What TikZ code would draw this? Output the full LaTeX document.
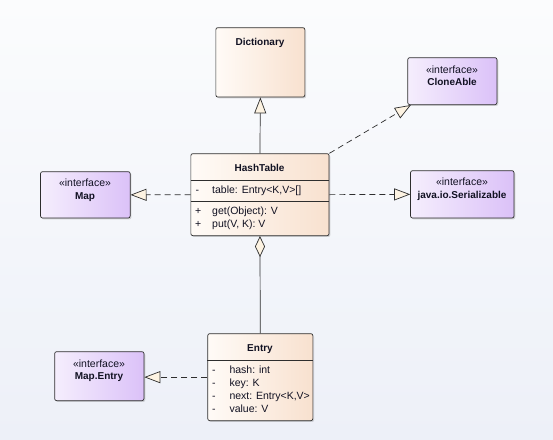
\documentclass[tikz,border=0pt]{standalone}
\usepackage{fontspec}
\setmainfont{Liberation Sans}
\usetikzlibrary{arrows.meta,shadows}
\definecolor{bgtop}{HTML}{FBFCFD}
\definecolor{bgbot}{HTML}{EDF0F8}
\definecolor{clsL}{HTML}{FFFBF7}
\definecolor{clsR}{HTML}{F8E1CF}
\definecolor{intL}{HTML}{F5EEFD}
\definecolor{intR}{HTML}{DBC1F8}
\definecolor{cream}{HTML}{FDF3E2}
\definecolor{edge}{HTML}{2E2E2E}
\definecolor{txt}{HTML}{111122}
\begin{document}
\begin{tikzpicture}[x=1pt,y=-1pt,
  box/.style={draw=edge, line width=0.7pt, rounded corners=2pt, anchor=north west, inner sep=0pt,
    drop shadow={shadow xshift=1.3pt, shadow yshift=-1.3pt, opacity=0.25, fill=black!60}},
  cls/.style={box, left color=clsL, right color=clsR},
  intf/.style={box, left color=intL, right color=intR},
  nm/.style={font=\fontsize{10}{12}\selectfont\bfseries, text=txt, inner sep=0pt, anchor=mid},
  st/.style={font=\fontsize{10.5}{12}\selectfont, text=txt, inner sep=0pt, anchor=mid},
  it/.style={font=\fontsize{10.5}{12}\selectfont, text=txt, inner sep=0pt, anchor=mid west},
  conn/.style={draw=edge, line width=0.7pt},
  real/.style={conn, dash pattern=on 6pt off 4pt},
  gen/.style={-{Triangle[length=16pt, width=12pt, fill=cream]}},
  agg/.style={{Diamond[length=21pt, width=10pt, fill=cream]}-}
]
\useasboundingbox (0,0) rectangle (553,439);
\fill[top color=bgtop, bottom color=bgbot] (0,0) rectangle (553,439);

% boxes
\node[cls, minimum width=89pt, minimum height=69.4pt] (dict) at (215.5,27.3) {};
\node[intf, minimum width=89.2pt, minimum height=47pt] (clone) at (407.4,57.3) {};
\node[intf, minimum width=103.4pt, minimum height=47.4pt] (ser) at (410.2,170.3) {};
\node[cls, minimum width=138.2pt, minimum height=82pt] (ht) at (190.5,153.3) {};
\node[intf, minimum width=89.6pt, minimum height=46.4pt] (map) at (40.2,171.3) {};
\node[intf, minimum width=89.3pt, minimum height=49pt] (mapent) at (54.3,351.3) {};
\node[cls, minimum width=105.1pt, minimum height=87pt] (entry) at (207.4,333.3) {};

% separators
\draw[conn] ([yshift=-27.4pt]ht.north west) -- ([yshift=-27.4pt]ht.north east);
\draw[conn] ([yshift=-48pt]ht.north west) -- ([yshift=-48pt]ht.north east);
\draw[conn] ([yshift=-27pt]entry.north west) -- ([yshift=-27pt]entry.north east);

% texts
\node[nm] (tdict) at (260,43) {Dictionary};
\node[st] (tcs) at (452,70.5) {«interface»};
\node[nm] (tcn) at (452,83) {CloneAble};
\node[st] (tss) at (462,183) {«interface»};
\node[nm] (tsn) at (462,196) {java.io.Serializable};
\node[st] (tms) at (85,184) {«interface»};
\node[nm] (tmn) at (85,197) {Map};
\node[st] (tes) at (99,364.5) {«interface»};
\node[nm] (ten) at (99,377) {Map.Entry};

\node[nm] (tht) at (259.6,169) {HashTable};
\node[it] (ha1) at (195.5,191) {-};
\node[it] (ha2) at (212,191) {table: Entry<K,V>[]};
\node[it] (ho1) at (195,212) {+};
\node[it] (ho2) at (212,212) {get(Object): V};
\node[it] (ho3) at (195,225) {+};
\node[it] (ho4) at (212,225) {put(V, K): V};

\node[nm] (tent) at (260,349) {Entry};
\node[it] (ea1) at (212,371) {-};
\node[it] (ea2) at (229.3,371) {hash: int};
\node[it] (eb1) at (212,384) {-};
\node[it] (eb2) at (229.3,384) {key: K};
\node[it] (ec1) at (212,397) {-};
\node[it] (ec2) at (229.3,397) {next: Entry<K,V>};
\node[it] (ed1) at (212,410) {-};
\node[it] (ed2) at (229.3,410) {value: V};

% connectors
\draw[conn, gen] (ht.north) -- (dict.south);
\draw[real, gen] (ht.west) -- (map.east);
\draw[real, gen] (ht.east) -- (ser.west);
\draw[real, gen] (ht.north east) -- ([xshift=3.5pt]clone.south west);
\draw[conn, agg] (ht.south) -- (entry.north);
\draw[real, gen] (entry.west) -- (entry.west -| mapent.east);
\end{tikzpicture}
\end{document}
